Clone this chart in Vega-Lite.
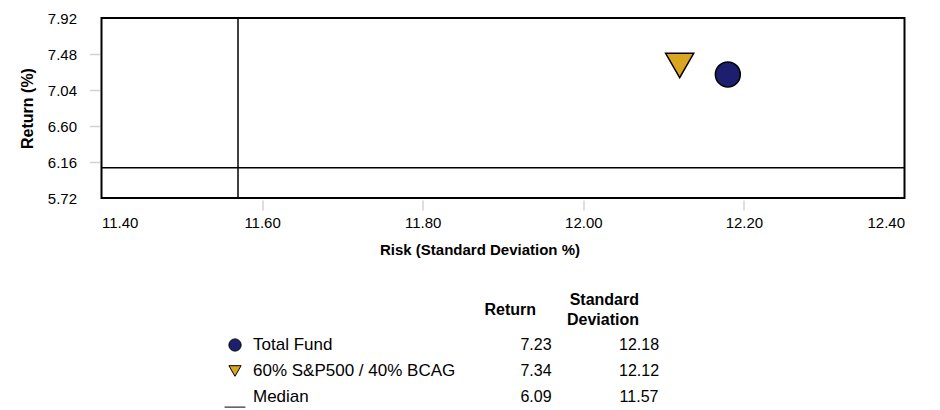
{
  "$schema": "https://vega.github.io/schema/vega-lite/v6.json",
  "background": "white",
  "padding": {"left": 17.5, "top": 10, "right": 5, "bottom": 5},
  "config": {
    "font": "Liberation Sans",
    "view": {"stroke": null},
    "axis": {"grid": false},
    "axisQuantitative": {
      "domain": false,
      "offset": 2,
      "tickSize": 10,
      "tickColor": "#d3d3d3",
      "tickWidth": 1.5,
      "labelFontSize": 15,
      "labelColor": "black",
      "titleFontWeight": "bold",
      "titleColor": "black"
    }
  },
  "datasets": {
    "rr": [
      {"series": "Total Fund", "ret": 7.23, "sd": 12.18},
      {"series": "60% S&P500 / 40% BCAG", "ret": 7.34, "sd": 12.12},
      {"series": "Median", "ret": 6.09, "sd": 11.57}
    ]
  },
  "resolve": {"scale": {"shape": "independent", "fill": "independent", "size": "independent"}},
  "bounds": "flush",
  "spacing": 134,
  "vconcat": [
    {
      "width": 803,
      "height": 180,
      "view": {"stroke": "black", "strokeWidth": 2},
      "data": {"name": "rr"},
      "layer": [
        {
          "transform": [{"filter": "datum.series === 'Median'"}],
          "mark": {"type": "rule", "color": "black", "strokeWidth": 1.5},
          "encoding": {
            "x": {
              "field": "sd", "type": "quantitative",
              "scale": {"domain": [11.4, 12.4], "nice": false, "zero": false},
              "axis": {
                "values": [11.4, 11.6, 11.8, 12.0, 12.2, 12.4],
                "format": ".2f",
                "title": "Risk (Standard Deviation %)",
                "tickOpacity": {"condition": {"test": "datum.value < 11.41 || datum.value > 12.39", "value": 0}, "value": 1},
                "labelPadding": 5,
                "titleFontSize": 15,
                "titlePadding": 12,
                "titleX": 378,
                "titleAlign": "center"
              }
            }
          }
        },
        {
          "transform": [{"filter": "datum.series === 'Median'"}],
          "mark": {"type": "rule", "color": "black", "strokeWidth": 1.5},
          "encoding": {
            "y": {
              "field": "ret", "type": "quantitative",
              "scale": {"domain": [5.72, 7.92], "nice": false, "zero": false},
              "axis": {
                "values": [5.72, 6.16, 6.6, 7.04, 7.48, 7.92],
                "format": ".2f",
                "title": "Return (%)",
                "tickOpacity": {"condition": {"test": "datum.value < 5.73 || datum.value > 7.91", "value": 0}, "value": 1},
                "labelPadding": 13,
                "titleFontSize": 16,
                "titlePadding": 12
              }
            }
          }
        },
        {
          "transform": [{"filter": "datum.series !== 'Median'"}],
          "mark": {"type": "point", "filled": true, "stroke": "black", "strokeWidth": 1.5, "opacity": 1},
          "encoding": {
            "x": {
              "field": "sd", "type": "quantitative",
              "scale": {"domain": [11.4, 12.4], "nice": false, "zero": false},
              "axis": {
                "values": [11.4, 11.6, 11.8, 12.0, 12.2, 12.4],
                "format": ".2f",
                "title": "Risk (Standard Deviation %)",
                "tickOpacity": {"condition": {"test": "datum.value < 11.41 || datum.value > 12.39", "value": 0}, "value": 1},
                "labelPadding": 5,
                "titleFontSize": 15,
                "titlePadding": 12,
                "titleX": 378,
                "titleAlign": "center"
              }
            },
            "y": {
              "field": "ret", "type": "quantitative",
              "scale": {"domain": [5.72, 7.92], "nice": false, "zero": false},
              "axis": {
                "values": [5.72, 6.16, 6.6, 7.04, 7.48, 7.92],
                "format": ".2f",
                "title": "Return (%)",
                "tickOpacity": {"condition": {"test": "datum.value < 5.73 || datum.value > 7.91", "value": 0}, "value": 1},
                "labelPadding": 13,
                "titleFontSize": 16,
                "titlePadding": 12
              }
            },
            "shape": {
              "field": "series", "type": "nominal",
              "scale": {"domain": ["Total Fund", "60% S&P500 / 40% BCAG"], "range": ["circle", "triangle-down"]},
              "legend": null
            },
            "fill": {
              "field": "series", "type": "nominal",
              "scale": {"domain": ["Total Fund", "60% S&P500 / 40% BCAG"], "range": ["#1b1f6e", "#daa520"]},
              "legend": null
            },
            "size": {
              "field": "series", "type": "nominal",
              "scale": {"domain": ["Total Fund", "60% S&P500 / 40% BCAG"], "range": [620, 790]},
              "legend": null
            }
          }
        }
      ]
    },
    {
      "width": 589,
      "height": 78,
      "data": {"name": "rr"},
      "layer": [
        {
          "mark": {"type": "point", "filled": true, "stroke": "black", "strokeWidth": 1, "opacity": 1, "size": 150, "xOffset": -146.5},
          "encoding": {
            "x": {"datum": "name", "type": "nominal", "bandPosition": 0,
              "scale": {"type": "band", "domain": ["name", "ret", "sd"], "range": [280, 589], "paddingInner": 0, "paddingOuter": 0}},
            "y": {"field": "series", "type": "nominal",
              "scale": {"type": "band", "domain": ["Total Fund", "60% S&P500 / 40% BCAG", "Median"], "paddingInner": 0, "paddingOuter": 0},
              "axis": null},
            "shape": {
              "field": "series", "type": "nominal",
              "scale": {"domain": ["Total Fund", "60% S&P500 / 40% BCAG", "Median"], "range": ["circle", "triangle-down", "M-1.7,1.65L1.7,1.65"]},
              "legend": null
            },
            "fill": {
              "field": "series", "type": "nominal",
              "scale": {"domain": ["Total Fund", "60% S&P500 / 40% BCAG", "Median"], "range": ["#1b1f6e", "#daa520", "transparent"]},
              "legend": null
            }
          }
        },
        {
          "mark": {"type": "text", "align": "left", "baseline": "middle", "fontSize": 17, "color": "black", "dx": -128.5},
          "encoding": {
            "x": {"datum": "name", "type": "nominal", "bandPosition": 0},
            "y": {"field": "series", "type": "nominal"},
            "text": {"field": "series"}
          }
        },
        {
          "transform": [{"fold": ["ret", "sd"], "as": ["col", "val"]}],
          "mark": {"type": "text", "align": "center", "baseline": "middle", "fontSize": 16, "color": "black"},
          "encoding": {
            "x": {
              "field": "col", "type": "nominal",
              "axis": {
                "orient": "top",
                "title": null,
                "domain": false,
                "ticks": false,
                "labelAngle": 0,
                "labelFontSize": 16,
                "labelFontWeight": "bold",
                "labelColor": "black",
                "labelBaseline": "middle",
                "labelLineHeight": 20,
                "labelPadding": {"condition": {"test": "datum.value === 'sd'", "value": 33}, "value": 23},
                "labelOverlap": false,
                "labelBound": false,
                "labelExpr": "datum.value === 'ret' ? 'Return' : (datum.value === 'sd' ? ['Standard', 'Deviation'] : '')"
              }
            },
            "y": {"field": "series", "type": "nominal"},
            "text": {"field": "val", "type": "quantitative", "format": ".2f"}
          }
        }
      ]
    }
  ]
}
